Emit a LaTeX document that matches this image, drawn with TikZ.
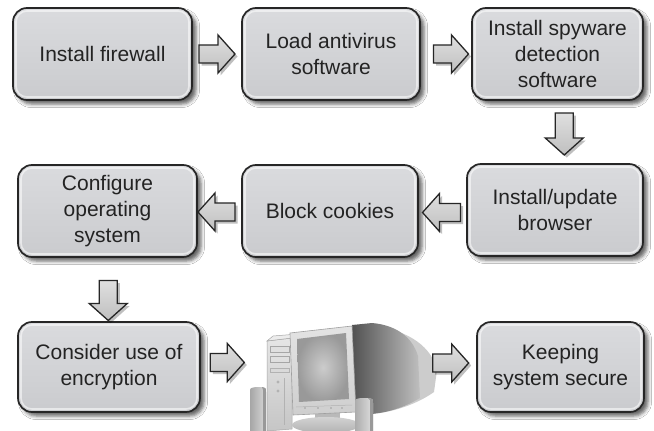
\documentclass[tikz,border=0pt]{standalone}
\usepackage{fontspec}
\setmainfont{Liberation Sans}
\usetikzlibrary{shadows.blur,calc}

\definecolor{boxtop}{HTML}{DADBDE}
\definecolor{boxbot}{HTML}{CACBCE}
\definecolor{textgray}{HTML}{232323}
\definecolor{rim}{HTML}{262626}

\newcommand\boxfont{\fontsize{21}{26}\selectfont}

% block arrow: #1 centre, #2 rotation, #3 length
\newcommand\flowarrow[3]{%
  \begin{scope}[shift={#1}, shift={(2.5,2.5)}, rotate=#2]
    \fill[black, opacity=0.25]
      ({-#3/2},-9) -- ({#3/2-17},-9) -- ({#3/2-17},-19) -- ({#3/2},0)
      -- ({#3/2-17},19) -- ({#3/2-17},9) -- ({-#3/2},9) -- cycle;
  \end{scope}
  \begin{scope}[shift={#1}, rotate=#2]
    \shade[draw=rim, line width=1.3pt, line join=miter,
           top color=gray!25, middle color=white, bottom color=gray!50]
      ({-#3/2},-9) -- ({#3/2-17},-9) -- ({#3/2-17},-19) -- ({#3/2},0)
      -- ({#3/2-17},19) -- ({#3/2-17},9) -- ({-#3/2},9) -- cycle;
  \end{scope}}

\tikzset{
  stepbox/.style={
    rounded corners=14pt, draw=rim, line width=1.7pt,
    top color=boxtop, bottom color=boxbot,
    blur shadow={shadow xshift=4pt, shadow yshift=-4pt,
                 shadow blur radius=3.5pt, shadow opacity=60},
    align=center, font=\boxfont, text=textgray, inner sep=2pt,
    minimum height=92pt,
    path picture={
      \draw[white, opacity=0.55, line width=1.6pt, rounded corners=11pt]
        ([shift={(3pt,3pt)}]path picture bounding box.south west)
        rectangle ([shift={(-3pt,-3pt)}]path picture bounding box.north east);
    }
  },
}

\begin{document}
\begin{tikzpicture}[x=1pt, y=-1pt]
\useasboundingbox[fill=white] (0,0) rectangle (654,431);

% ---- process steps ----
\node[stepbox, minimum width=179pt] (fw) at (102.5,54) {Install firewall};
\node[stepbox, minimum width=178pt] (av) at (331,54) {Load antivirus\\software};
\node[stepbox, minimum width=171pt] (sp) at (557.5,54) {Install spyware\\detection\\software};

\node[stepbox, minimum width=176pt] (br) at (555,210) {Install/update\\browser};
\node[stepbox, minimum width=176pt] (bc) at (330,211) {Block cookies};
\node[stepbox, minimum width=179pt] (os) at (107.5,211) {Configure\\operating\\system};

\node[stepbox, minimum width=182pt, minimum height=90pt] (enc) at (109,367) {Consider use of\\encryption};
\node[stepbox, minimum width=167pt, minimum height=90pt] (ks) at (560.5,367) {Keeping\\system secure};

% ---- computer ----
% cast shadow and CRT housing
\fill[gray!40] (372,326) .. controls (410,330) and (432,348) .. (437,370)
  -- (434,392) .. controls (420,402) and (400,410) .. (380,413) -- (372,413) -- cycle;
\shade[left color=black!68, right color=gray!50]
  (352,325) -- (372,323) .. controls (395,325) and (412,336) .. (418,356)
  -- (420,398) .. controls (405,407) and (390,412) .. (372,414) -- (355,412) -- cycle;
% tower
\shade[top color=gray!20, bottom color=gray!45, draw=gray!70, line width=0.5pt]
  (267,341) -- (292,338) -- (292,429) -- (267,431) -- cycle;
\fill[gray!15, draw=gray!70, line width=0.5pt]
  (267,341) -- (273,336) -- (298,334) -- (292,338) -- cycle;
\foreach \yy in {346,356} {
  \draw[gray!70, fill=gray!25, line width=0.5pt] (270,\yy) rectangle (289,\yy+6);
}
\draw[gray!60, fill=gray!30, line width=0.5pt] (270,368) rectangle (289,372);
\fill[gray!60] (278,382) circle (1.6) (278,391) circle (1.6);
\draw[gray!60, line width=0.5pt] (284,378) -- (284,425);
% stand
\fill[gray!55] (315,410) rectangle (340,422);
\shade[top color=gray!35, bottom color=gray!60] (326,425) ellipse (34 and 8);
% bezel and screen
\shade[top color=gray!22, bottom color=gray!38, draw=gray!75, line width=0.6pt]
  (290,333) -- (352,326) -- (356,412) -- (293,415) -- cycle;
\shade[inner color=gray!40, outer color=gray!80]
  (297,339) -- (346,333) -- (349,399) -- (299,402) -- cycle;
\draw[gray!60, line width=0.5pt] (296,407) -- (352,405);
\foreach \xx in {305,318,331,342} \fill[gray!75] (\xx,408) circle (0.9);
% speakers
\shade[left color=gray!70, right color=gray!30]
  (250,431) -- (250,392) .. controls (250,388) .. (256,387) -- (262,387)
  .. controls (266,388) .. (266,392) -- (266,431) -- cycle;
\fill[gray!80] (262,387) .. controls (266,388) .. (266,392) -- (266,431) -- (263,431) -- (263,390) -- cycle;
\shade[left color=gray!65, right color=gray!25]
  (355,431) -- (355,403) .. controls (355,399) .. (361,398) -- (368,398)
  .. controls (373,399) .. (373,403) -- (373,431) -- cycle;
\fill[gray!80] (368,398) .. controls (373,399) .. (373,403) -- (373,431) -- (370,431) -- (370,400) -- cycle;
\node[inner sep=0, minimum width=171pt, minimum height=110pt] (pc) at (339.5,376) {};

% ---- block arrows between steps ----
\flowarrow{($(fw.east)!0.5!(av.west)$)}{0}{36}
\flowarrow{($(av.east)!0.6!(sp.west)$)}{0}{35}
\flowarrow{($(sp.south)!0.5!(br.north)+(8,2)$)}{-90}{42}
\flowarrow{($(br.west)!0.5!(bc.east)+(-1,2)$)}{180}{38}
\flowarrow{($(bc.west)!0.5!(os.east)+(-3,1)$)}{180}{37}
\flowarrow{($(os.south)!0.5!(enc.north)+(0,11)$)}{-90}{40}
\flowarrow{($(enc.east)!0.5!(pc.west)+(0,-9)$)}{0}{34}
\flowarrow{($(pc.east)!0.5!(ks.west)+(0,-8.5)$)}{0}{36}
\end{tikzpicture}
\end{document}
